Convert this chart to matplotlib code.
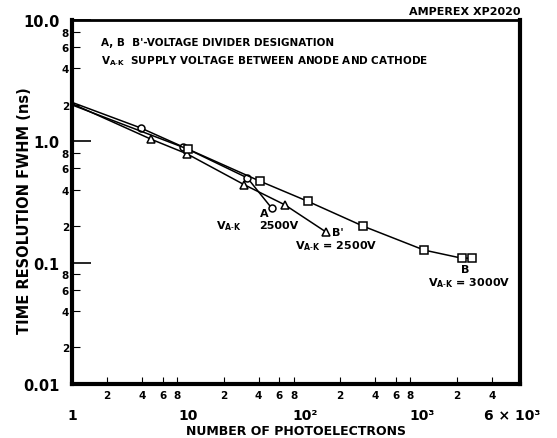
import matplotlib
matplotlib.use("Agg")
import matplotlib.pyplot as plt
from matplotlib.ticker import FixedLocator, FixedFormatter

# divider A, V_A-K = 2500 V (circles)
a_x = [1, 3.9, 9, 32, 52]
a_y = [2.1, 1.29, 0.90, 0.50, 0.28]
# divider B', V_A-K = 2500 V (triangles)
bp_x = [1, 4.8, 9.7, 30, 67, 150]
bp_y = [2.05, 1.04, 0.79, 0.44, 0.30, 0.18]
# divider B, V_A-K = 3000 V (squares)
b_x = [1, 10, 41, 106, 315, 1050, 2200, 2700]
b_y = [2.0, 0.86, 0.47, 0.32, 0.20, 0.127, 0.109, 0.109]

x_major = [1, 10, 100, 1000, 6000]
x_major_labels = ["1", "10", "10²", "10³", "6 × 10³"]
x_minor = [m * d for d in [1, 10, 100] for m in [2, 4, 6, 8]] + [2000, 4000]
x_minor_labels = ["2", "4", "6", "8"] * 3 + ["2", "4"]

y_major = [0.01, 0.1, 1, 10]
y_major_labels = ["0.01", "0.1", "1.0", "10.0"]
y_minor = [m * d for d in [0.01, 0.1, 1] for m in [2, 4, 6, 8]]
y_minor_labels = ["2", "4", "6", "8"] * 3

plt.rcParams['font.family'] = ['DejaVu Sans']
plt.rcParams['mathtext.fontset'] = 'dejavusans'

fig = plt.figure(figsize=(5.57, 4.39), dpi=100)
ax = fig.add_axes([0.129, 0.123, 0.805, 0.829])

ax.set_xscale('log')
ax.set_yscale('log')
ax.set_xlim(1, 7000)
ax.set_ylim(0.01, 10)

lw = 1.1
ax.plot(a_x, a_y, color='black', lw=lw)
ax.plot(a_x[1:], a_y[1:], 'o', ms=5, mfc='white', mec='black', mew=1.1, ls='none')
ax.plot(bp_x, bp_y, color='black', lw=lw)
ax.plot(bp_x[1:], bp_y[1:], '^', ms=6, mfc='white', mec='black', mew=1.1, ls='none')
ax.plot(b_x, b_y, color='black', lw=lw)
ax.plot(b_x[1:], b_y[1:], 's', ms=5.5, mfc='white', mec='black', mew=1.1, ls='none')

# ticks
ax.xaxis.set_major_locator(FixedLocator(x_major))
ax.xaxis.set_major_formatter(FixedFormatter(x_major_labels))
ax.xaxis.set_minor_locator(FixedLocator(x_minor))
ax.xaxis.set_minor_formatter(FixedFormatter(x_minor_labels))
ax.yaxis.set_major_locator(FixedLocator(y_major))
ax.yaxis.set_major_formatter(FixedFormatter(y_major_labels))
ax.yaxis.set_minor_locator(FixedLocator(y_minor))
ax.yaxis.set_minor_formatter(FixedFormatter(y_minor_labels))

ax.tick_params(axis='x', which='major', direction='in', length=0, pad=17,
               labelsize=10)
ax.tick_params(axis='x', which='minor', direction='in', length=5, width=0.8,
               pad=4, labelsize=7.5)
ax.tick_params(axis='y', which='major', direction='in', length=14, width=1.2,
               pad=9, labelsize=10.5)
ax.tick_params(axis='y', which='minor', direction='in', length=6, width=0.8,
               pad=2, labelsize=7.5)
for lab in ax.get_xticklabels(which='both') + ax.get_yticklabels(which='both'):
    lab.set_fontweight('bold')

for side in ['left', 'bottom', 'right']:
    ax.spines[side].set_linewidth(3)
ax.spines['top'].set_linewidth(2)

ax.set_xlabel("NUMBER OF PHOTOELECTRONS", fontsize=9, fontweight='bold',
              labelpad=2)
ax.set_ylabel("TIME RESOLUTION FWHM (ns)", fontsize=10.5, fontweight='bold')
ax.yaxis.set_label_coords(-0.088, 0.48)

fig.text(0.934, 0.962, "AMPEREX XP2020", ha='right', va='bottom',
         fontsize=8, fontweight='bold')

ax.text(0.065, 0.94, "A, B  B'-VOLTAGE DIVIDER DESIGNATION",
        transform=ax.transAxes, fontsize=7.5, fontweight='bold', va='center')
ax.text(0.065, 0.89, r"V$_{\mathbf{A\text{-}K}}$  SUPPLY VOLTAGE BETWEEN ANODE AND CATHODE",
        transform=ax.transAxes, fontsize=7.5, fontweight='bold', va='center')

ax.text(45, 0.255, "A", fontsize=8, fontweight='bold', ha='center', va='center')
ax.text(22, 0.205, r"V$_{\mathbf{A\text{-}K}}$", fontsize=8, fontweight='bold',
        ha='center', va='center')
ax.text(59, 0.205, "2500V", fontsize=8, fontweight='bold', ha='center', va='center')
ax.text(190, 0.18, "B'", fontsize=8, fontweight='bold', ha='center', va='center')
ax.text(185, 0.14, r"V$_{\mathbf{A\text{-}K}}$ = 2500V", fontsize=8,
        fontweight='bold', ha='center', va='center')
ax.text(2350, 0.088, "B", fontsize=8, fontweight='bold', ha='center', va='center')
ax.text(2550, 0.069, r"V$_{\mathbf{A\text{-}K}}$ = 3000V", fontsize=8,
        fontweight='bold', ha='center', va='center')

fig.savefig("out.png", dpi=100)
